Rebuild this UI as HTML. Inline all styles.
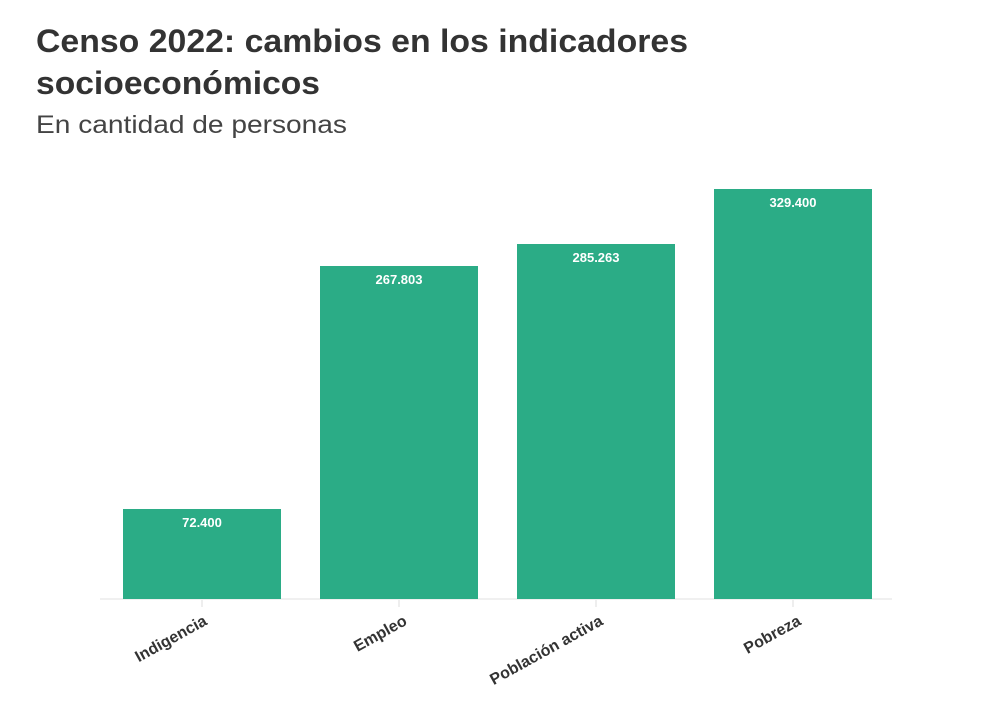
<!DOCTYPE html>
<html><head><meta charset="utf-8"><style>
body{margin:0;width:1000px;height:707px;background:#fff;overflow:hidden}
svg{display:block}
</style></head><body>
<svg width="1000" height="707" xmlns="http://www.w3.org/2000/svg" font-family="Liberation Sans, sans-serif">
<text x="36" y="52" font-size="32" font-weight="bold" fill="#333" textLength="652" lengthAdjust="spacingAndGlyphs">Censo 2022: cambios en los indicadores</text>
<text x="36" y="94" font-size="32" font-weight="bold" fill="#333" textLength="284" lengthAdjust="spacingAndGlyphs">socioeconómicos</text>
<text x="36" y="133" font-size="25" fill="#444" textLength="311" lengthAdjust="spacingAndGlyphs">En cantidad de personas</text>
<line x1="100" y1="599" x2="892" y2="599" stroke="#e2e2e2" stroke-width="1"/>
<g fill="#2bac86">
<rect x="123" y="509" width="158" height="90"/>
<rect x="320" y="266" width="158" height="333"/>
<rect x="517" y="244" width="158" height="355"/>
<rect x="714" y="189" width="158" height="410"/>
</g>
<g fill="#fff" font-size="13" font-weight="bold" text-anchor="middle">
<text x="202" y="527">72.400</text>
<text x="399" y="284">267.803</text>
<text x="596" y="262">285.263</text>
<text x="793" y="207">329.400</text>
</g>
<g stroke="#ddd"><line x1="202" y1="600" x2="202" y2="607"/><line x1="399" y1="600" x2="399" y2="607"/><line x1="596" y1="600" x2="596" y2="607"/><line x1="793" y1="600" x2="793" y2="607"/></g>
<g fill="#333" font-size="16" font-weight="bold" text-anchor="end">
<text transform="translate(208,624) rotate(-29)">Indigencia</text>
<text transform="translate(408,624) rotate(-29)">Empleo</text>
<text transform="translate(604,624) rotate(-29)">Población activa</text>
<text transform="translate(802,624) rotate(-29)">Pobreza</text>
</g>
</svg>
</body></html>
